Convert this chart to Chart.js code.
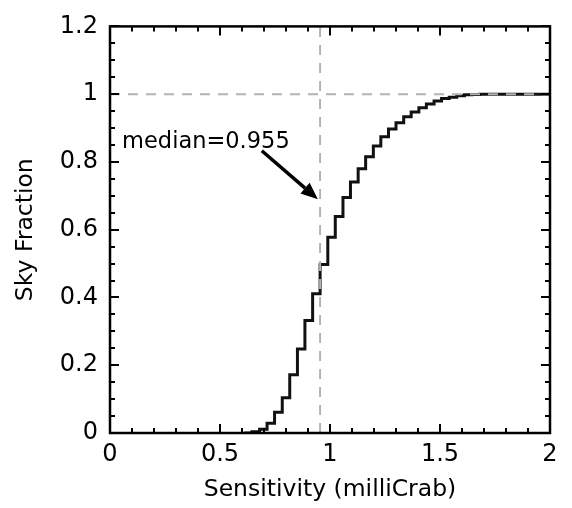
<!DOCTYPE html>
<html lang="en">
<head>
  <meta charset="UTF-8">
  <title>Sky Fraction vs Sensitivity</title>
  <script src="https://cdn.jsdelivr.net/npm/chart.js@4"></script>
  <style>
    html, body { margin: 0; padding: 0; background: #fff; }
  </style>
</head>
<body>
  <canvas id="skyChart" width="572" height="508"></canvas>

  <script>
    // bin edges (mCrab) and cumulative sky fraction reached at each edge
    const binEdges = [0.61, 0.645, 0.68, 0.714, 0.748, 0.783, 0.817, 0.852, 0.886, 0.921,
      0.955, 0.99, 1.024, 1.059, 1.093, 1.128, 1.162, 1.197, 1.231, 1.266,
      1.3, 1.335, 1.369, 1.404, 1.438, 1.473, 1.507, 1.542, 1.576, 1.611,
      1.645, 1.68, 2];
    const skyFraction = [0, 0.004, 0.011, 0.029, 0.061, 0.104, 0.172, 0.248, 0.332, 0.411,
      0.497, 0.578, 0.639, 0.695, 0.741, 0.78, 0.815, 0.847, 0.874, 0.897,
      0.916, 0.933, 0.947, 0.96, 0.971, 0.98, 0.987, 0.991, 0.995, 0.998,
      0.999, 1, 1];
    const medianSensitivity = 0.955;
    const fullSky = 1;

    const FONT = 'DejaVu Sans';
    const fmt = v => String(Math.round(v * 10) / 10);

    const stepPoints = binEdges.map((e, i) => ({ x: e, y: skyFraction[i] }));

    // inward tick marks on all four sides, frame, arrow + label
    const framePlugin = {
      id: 'frame',
      afterDatasetsDraw(chart) {
        const { ctx, chartArea: a, scales: { x, y } } = chart;
        ctx.save();
        ctx.strokeStyle = '#000';
        ctx.lineWidth = 2;
        ctx.beginPath();
        for (let i = 0; i <= 20; i++) {
          const px = Math.round(x.getPixelForValue(i / 10));
          const len = i % 5 === 0 ? 9 : 5;
          ctx.moveTo(px, a.bottom); ctx.lineTo(px, a.bottom - len);
          ctx.moveTo(px, a.top); ctx.lineTo(px, a.top + len);
        }
        for (let i = 0; i <= 24; i++) {
          const py = Math.round(y.getPixelForValue(i * 0.05));
          const len = i % 4 === 0 ? 9 : 5;
          ctx.moveTo(a.left, py); ctx.lineTo(a.left + len, py);
          ctx.moveTo(a.right, py); ctx.lineTo(a.right - len, py);
        }
        ctx.stroke();
        ctx.lineWidth = 2.5;
        ctx.strokeRect(a.left, a.top, a.right - a.left, a.bottom - a.top);

        // arrow pointing at the median
        const x0 = x.getPixelForValue(0.69), y0 = y.getPixelForValue(0.833);
        const x1 = x.getPixelForValue(0.945), y1 = y.getPixelForValue(0.69);
        const ang = Math.atan2(y1 - y0, x1 - x0);
        const head = 17, half = 7;
        const bx = x1 - head * Math.cos(ang), by = y1 - head * Math.sin(ang);
        ctx.lineWidth = 3.5;
        ctx.beginPath();
        ctx.moveTo(x0, y0); ctx.lineTo(bx, by);
        ctx.stroke();
        ctx.fillStyle = '#000';
        ctx.beginPath();
        ctx.moveTo(x1, y1);
        ctx.lineTo(bx + half * Math.sin(ang), by - half * Math.cos(ang));
        ctx.lineTo(bx - half * Math.sin(ang), by + half * Math.cos(ang));
        ctx.closePath();
        ctx.fill();

        ctx.font = '22.5px "' + FONT + '"';
        ctx.textAlign = 'left';
        ctx.textBaseline = 'alphabetic';
        ctx.fillText('median=' + medianSensitivity, x.getPixelForValue(0.055), y.getPixelForValue(0.842));
        ctx.restore();
      }
    };

    const ctx = document.getElementById('skyChart').getContext('2d');

    const chart = new Chart(ctx, {
      type: 'line',
      data: {
        datasets: [
          {
            label: 'median',
            data: [{ x: medianSensitivity, y: 0 }, { x: medianSensitivity, y: 1.2 }],
            borderColor: '#b3b3b3',
            borderWidth: 2,
            borderDash: [10, 8],
            pointRadius: 0,
            order: 1
          },
          {
            label: 'full sky',
            data: [{ x: 0, y: fullSky }, { x: 2, y: fullSky }],
            borderColor: '#b3b3b3',
            borderWidth: 2,
            borderDash: [10, 8],
            pointRadius: 0,
            order: 1
          },
          {
            label: 'Sky Fraction',
            data: stepPoints,
            stepped: true,
            borderColor: '#111',
            borderWidth: 3,
            pointRadius: 0,
            fill: false,
            order: 2
          }
        ]
      },
      options: {
        responsive: false,
        animation: false,
        layout: { padding: { top: 15, right: 22, left: 0, bottom: 0 } },
        plugins: {
          legend: { display: false },
          tooltip: { enabled: false }
        },
        scales: {
          x: {
            type: 'linear',
            min: 0,
            max: 2,
            grid: { display: false, drawTicks: false },
            border: { display: false },
            ticks: {
              stepSize: 0.5,
              autoSkip: false,
              maxRotation: 0,
              padding: 7,
              color: '#000',
              font: { family: FONT, size: 24 },
              callback: fmt
            },
            title: {
              display: true,
              text: 'Sensitivity (milliCrab)',
              color: '#000',
              font: { family: FONT, size: 23.5 },
              padding: { top: 0, bottom: 4 }
            },
            afterFit(scale) { scale.height = 75; }
          },
          y: {
            type: 'linear',
            min: 0,
            max: 1.2,
            grid: { display: false, drawTicks: false },
            border: { display: false },
            ticks: {
              stepSize: 0.2,
              padding: 12,
              color: '#000',
              font: { family: FONT, size: 24 },
              callback: fmt
            },
            title: {
              display: true,
              text: 'Sky Fraction',
              color: '#000',
              font: { family: FONT, size: 23.5 },
              padding: { top: 12, bottom: 0 }
            },
            afterFit(scale) { scale.width = 110; }
          }
        }
      },
      plugins: [framePlugin]
    });
  </script>
</body>
</html>
